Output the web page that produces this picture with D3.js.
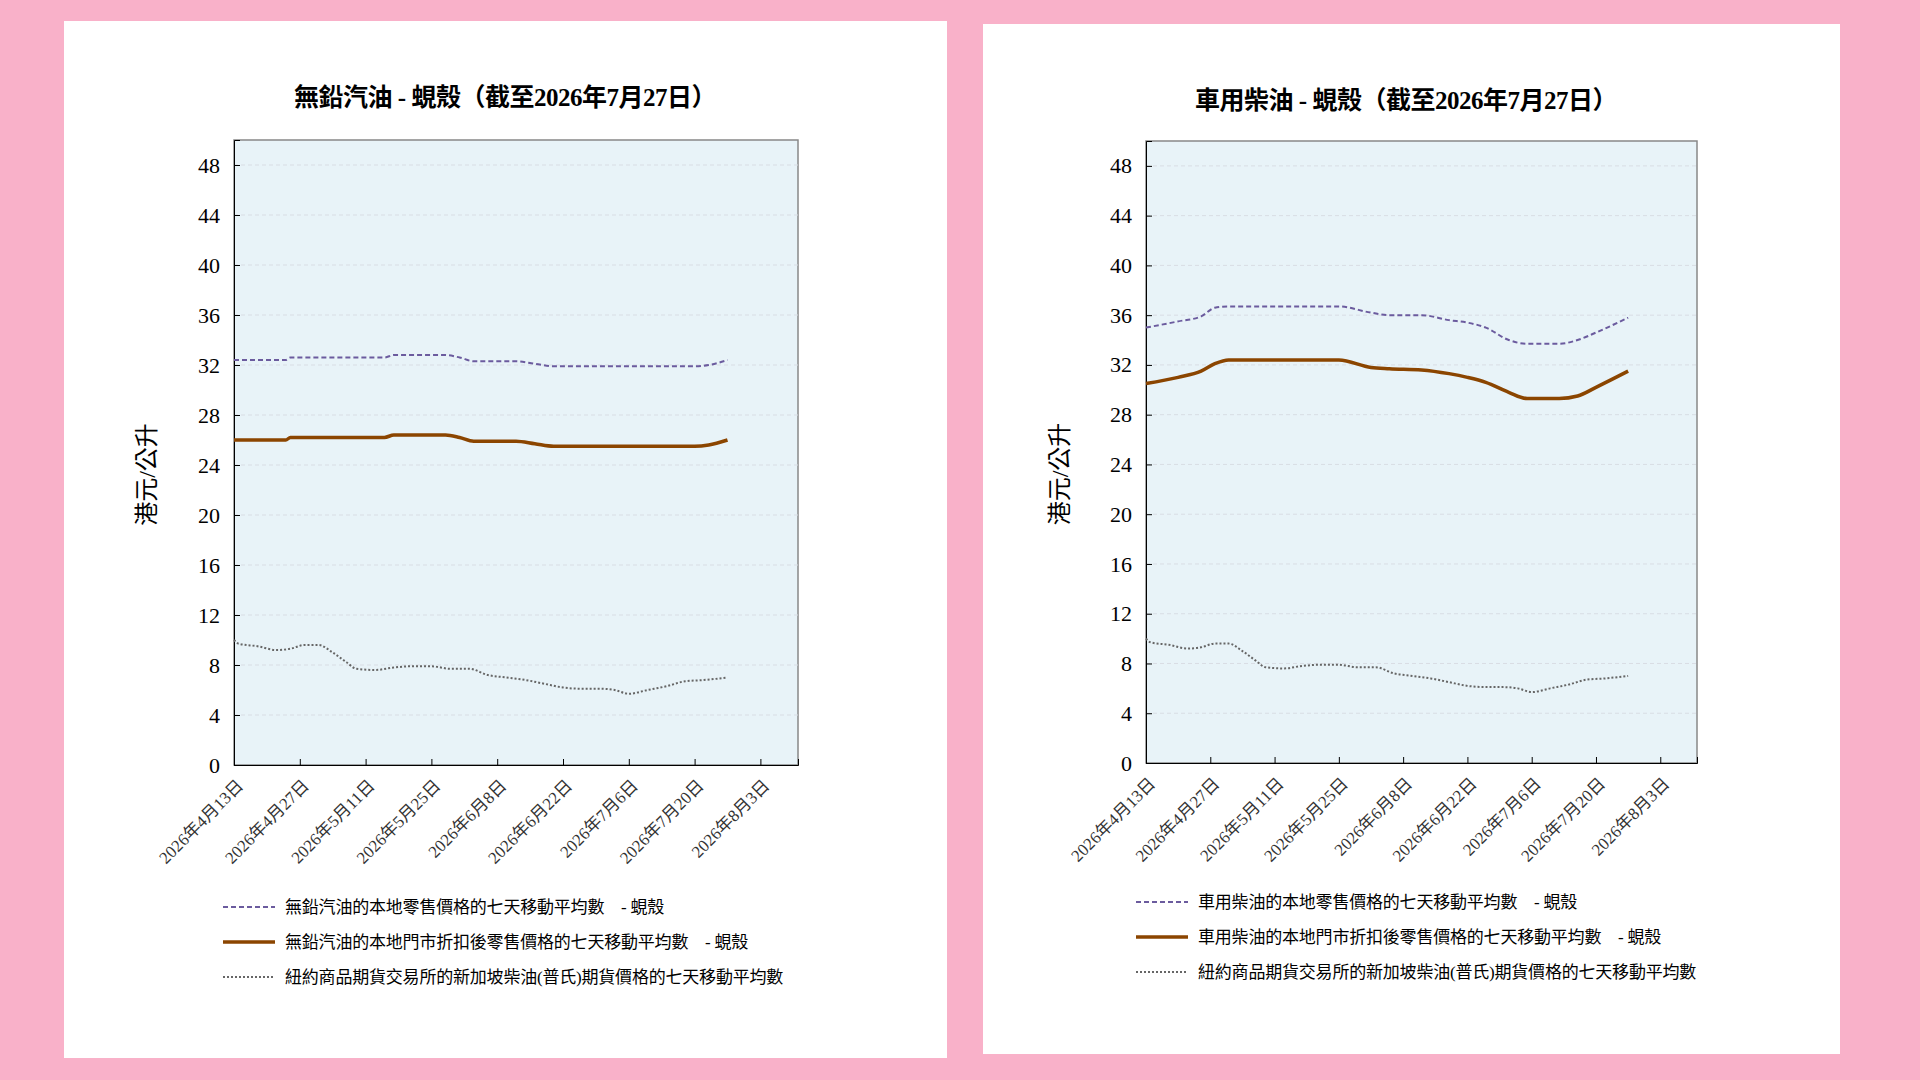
<!DOCTYPE html>
<html><head><meta charset="utf-8">
<script src="https://cdn.jsdelivr.net/npm/d3@7"></script>
<style>
body{margin:0;background:#f9b1c9;}
svg{display:block;}
</style></head><body>
<svg id="chart" width="1920" height="1080"></svg>
<script>
// data
var tickDates = ["2026-04-13","2026-04-27","2026-05-11","2026-05-25","2026-06-08","2026-06-22","2026-07-06","2026-07-20","2026-08-03"];
var tickLabels = ["2026年4月13日","2026年4月27日","2026年5月11日","2026年5月25日","2026年6月8日","2026年6月22日","2026年7月6日","2026年7月20日","2026年8月3日"];
var yTicks = [0,4,8,12,16,20,24,28,32,36,40,44,48];

var petrolDates = ["2026-04-13","2026-04-24","2026-04-25","2026-05-15","2026-05-17","2026-05-28","2026-05-31","2026-06-03","2026-06-12","2026-06-16","2026-06-20","2026-07-20","2026-07-23","2026-07-27"];
var petrolRetail   = [32.4,32.4,32.6,32.6,32.8,32.8,32.6,32.3,32.3,32.1,31.9,31.9,32.0,32.4];
var petrolDiscount = [26.0,26.0,26.2,26.2,26.4,26.4,26.2,25.9,25.9,25.7,25.5,25.5,25.6,26.0];

var dieselDates = ["2026-04-13","2026-04-20","2026-04-25","2026-04-28","2026-05-01","2026-05-25","2026-06-01","2026-06-05","2026-06-12","2026-06-18","2026-06-22","2026-06-26","2026-07-01","2026-07-05","2026-07-12","2026-07-16","2026-07-20","2026-07-27"];
var dieselRetail   = [35.0,35.5,35.9,36.6,36.7,36.7,36.2,36.0,36.0,35.6,35.4,35.0,34.0,33.7,33.7,34.0,34.6,35.8];
var dieselDiscount = [30.5,31.0,31.5,32.1,32.4,32.4,31.8,31.7,31.6,31.3,31.0,30.6,29.8,29.3,29.3,29.5,30.2,31.5];

var futDates = ["2026-04-13","2026-04-14","2026-04-18","2026-04-22","2026-04-25","2026-04-28","2026-05-01","2026-05-04","2026-05-07","2026-05-09","2026-05-13","2026-05-17","2026-05-21","2026-05-25","2026-05-29","2026-06-02","2026-06-06","2026-06-10","2026-06-14","2026-06-18","2026-06-22","2026-06-26","2026-06-30","2026-07-03","2026-07-06","2026-07-10","2026-07-14","2026-07-18","2026-07-22","2026-07-27"];
var futures = [10.0,9.7,9.5,9.2,9.3,9.6,9.6,9.0,8.2,7.7,7.6,7.8,7.9,7.9,7.7,7.7,7.2,7.0,6.8,6.5,6.2,6.1,6.1,6.0,5.7,6.0,6.3,6.7,6.8,7.0];

var parse = d3.timeParse("%Y-%m-%d");
var svg = d3.select("#chart");
var cjk = "'Liberation Serif','Noto Sans CJK TC',serif";

function drawPanel(p) {
  svg.append("rect").attr("x", p.px).attr("y", p.py).attr("width", p.pw).attr("height", p.ph).attr("fill", "#fff");
  var x = d3.scaleTime().domain([parse("2026-04-13"), parse("2026-08-11")]).range([p.x0, p.x1]);
  var y = d3.scaleLinear().domain([0, 50]).range([p.y1, p.y0]);
  var g = svg.append("g");
  g.append("rect").attr("x", p.x0).attr("y", p.y0).attr("width", p.x1 - p.x0).attr("height", p.y1 - p.y0)
    .attr("fill", "#e8f3f8").attr("stroke", "#888").attr("stroke-width", 1.5);
  yTicks.slice(1).forEach(function(t) {
    g.append("line").attr("x1", p.x0).attr("x2", p.x1).attr("y1", y(t)).attr("y2", y(t))
      .attr("stroke", "#d8dde4").attr("stroke-dasharray", "4,3");
  });
  var ya = g.append("g").attr("transform", "translate(" + p.x0 + ",0)")
    .call(d3.axisLeft(y).tickValues(yTicks).tickSize(-6).tickPadding(14));
  ya.select(".domain").attr("stroke", "#000");
  ya.selectAll("text").attr("font-family", cjk).attr("font-size", 22).attr("fill", "#000");
  var xa = g.append("g").attr("transform", "translate(0," + p.y1 + ")")
    .call(d3.axisBottom(x).tickValues(tickDates.map(parse)).tickSize(-6).tickFormat(function(d, i) { return tickLabels[i]; }));
  xa.select(".domain").attr("stroke", "#000");
  xa.selectAll("text").attr("font-family", cjk).attr("font-size", 17).attr("fill", "#333")
    .attr("text-anchor", "end").attr("transform", "translate(4,16) rotate(-45)").attr("dy", "0.3em").attr("dx", "0");

  var line = d3.line().x(function(d) { return x(d[0]); }).y(function(d) { return y(d[1]); }).curve(d3.curveMonotoneX);
  function series(dates, vals, st) {
    g.append("path").datum(dates.map(function(d, i) { return [parse(d), vals[i]]; }))
      .attr("d", line).attr("fill", "none").attr("stroke", st.c).attr("stroke-width", st.w)
      .attr("stroke-dasharray", st.dash);
  }
  var styles = [{c: "#6b5b9e", w: 2, dash: "5,3"}, {c: "#8b4500", w: 3.5, dash: null}, {c: "#666", w: 2, dash: "2,2"}];
  series(p.dates, p.retail, styles[0]);
  series(p.dates, p.discount, styles[1]);
  series(futDates, futures, styles[2]);

  svg.append("text").attr("x", p.tx).attr("y", p.ty).attr("text-anchor", "middle")
    .attr("font-family", cjk).attr("font-size", 25).attr("font-weight", "bold").attr("letter-spacing", -0.5).text(p.title);
  svg.append("text").attr("transform", "translate(" + p.lx + "," + ((p.y0 + p.y1) / 2 + 22) + ") rotate(-90)")
    .attr("text-anchor", "middle").attr("dy", "0.35em").attr("font-family", cjk).attr("font-size", 24).text("港元/公升");

  p.legend.forEach(function(t, i) {
    var ly = p.legY + i * 35;
    svg.append("line").attr("x1", p.legX).attr("x2", p.legX + 52).attr("y1", ly).attr("y2", ly)
      .attr("stroke", styles[i].c).attr("stroke-width", styles[i].w).attr("stroke-dasharray", styles[i].dash);
    svg.append("text").attr("x", p.legX + 62).attr("y", ly).attr("dy", "0.35em")
      .attr("font-family", cjk).attr("font-size", 17).attr("letter-spacing", -0.2).text(t);
  });
}

drawPanel({px: 64, py: 21, pw: 883, ph: 1037, x0: 234, x1: 798, y0: 140, y1: 765,
  tx: 505, ty: 106, lx: 147, legX: 223, legY: 907,
  title: "無鉛汽油 - 蜆殼（截至2026年7月27日）",
  dates: petrolDates, retail: petrolRetail, discount: petrolDiscount,
  legend: ["無鉛汽油的本地零售價格的七天移動平均數　- 蜆殼", "無鉛汽油的本地門市折扣後零售價格的七天移動平均數　- 蜆殼", "紐約商品期貨交易所的新加坡柴油(普氏)期貨價格的七天移動平均數"]});

drawPanel({px: 983, py: 24, pw: 857, ph: 1030, x0: 1146, x1: 1697, y0: 141, y1: 763,
  tx: 1406, ty: 109, lx: 1060, legX: 1136, legY: 902,
  title: "車用柴油 - 蜆殼（截至2026年7月27日）",
  dates: dieselDates, retail: dieselRetail, discount: dieselDiscount,
  legend: ["車用柴油的本地零售價格的七天移動平均數　- 蜆殼", "車用柴油的本地門市折扣後零售價格的七天移動平均數　- 蜆殼", "紐約商品期貨交易所的新加坡柴油(普氏)期貨價格的七天移動平均數"]});
</script>
</body></html>
